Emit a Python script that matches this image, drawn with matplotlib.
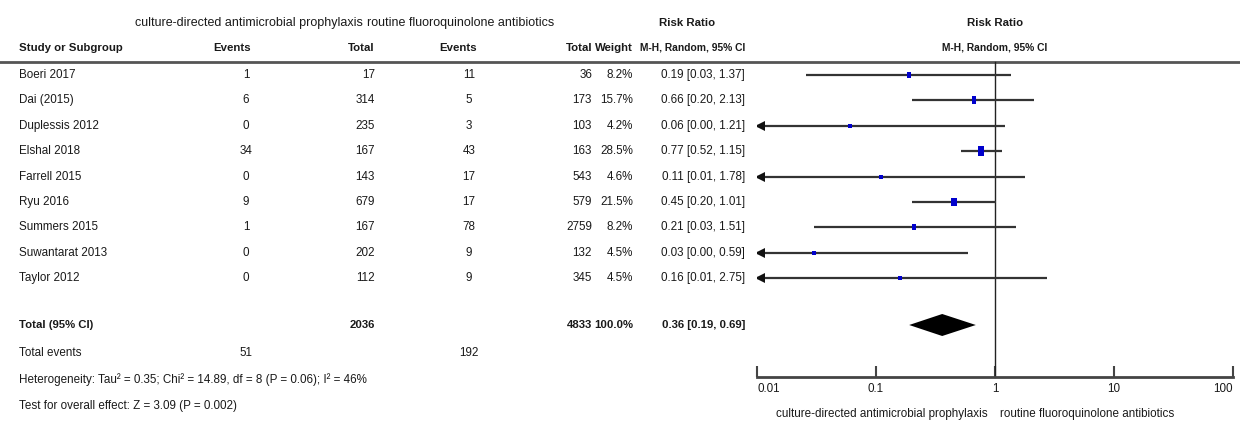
import numpy as np
import matplotlib.pyplot as plt

plt.rcParams['font.family'] = ['Liberation Sans', 'DejaVu Sans']

# study data
studies = ['Boeri 2017', 'Dai (2015)', 'Duplessis 2012', 'Elshal 2018', 'Farrell 2015',
           'Ryu 2016', 'Summers 2015', 'Suwantarat 2013', 'Taylor 2012']
ev1 = [1, 6, 0, 34, 0, 9, 1, 0, 0]
tot1 = [17, 314, 235, 167, 143, 679, 167, 202, 112]
ev2 = [11, 5, 3, 43, 17, 17, 78, 9, 9]
tot2 = [36, 173, 103, 163, 543, 579, 2759, 132, 345]
weight = [8.2, 15.7, 4.2, 28.5, 4.6, 21.5, 8.2, 4.5, 4.5]
rr = [0.19, 0.66, 0.06, 0.77, 0.11, 0.45, 0.21, 0.03, 0.16]
lo = [0.026, 0.20, 0.003, 0.52, 0.007, 0.20, 0.03, 0.002, 0.009]
hi = [1.37, 2.13, 1.21, 1.15, 1.78, 1.01, 1.51, 0.59, 2.75]
ci_text = ['0.19 [0.03, 1.37]', '0.66 [0.20, 2.13]', '0.06 [0.00, 1.21]',
           '0.77 [0.52, 1.15]', '0.11 [0.01, 1.78]', '0.45 [0.20, 1.01]',
           '0.21 [0.03, 1.51]', '0.03 [0.00, 0.59]', '0.16 [0.01, 2.75]']

total1, total2 = 2036, 4833
tev1, tev2 = 51, 192
pooled = (0.36, 0.19, 0.69)
group1 = 'culture-directed antimicrobial prophylaxis'
group2 = 'routine fluoroquinolone antibiotics'
het_text = 'Heterogeneity: Tau\u00b2 = 0.35; Chi\u00b2 = 14.89, df = 8 (P = 0.06); I\u00b2 = 46%'
test_text = 'Test for overall effect: Z = 3.09 (P = 0.002)'

W, H = 1240, 421
fig = plt.figure(figsize=(W / 100, H / 100), dpi=100)

# text layer in pixel coords
ax0 = fig.add_axes([0, 0, 1, 1])
ax0.set_xlim(0, W)
ax0.set_ylim(H, 0)
ax0.axis('off')

fs = 8.4
fsb = 8.2
tc = '#1a1a1a'

def txt(x, y, s, ha='left', bold=False, size=None):
    if size is None:
        size = fsb if bold else fs
    ax0.text(x, y, s, ha=ha, va='center', fontsize=size, color=tc,
             fontweight='bold' if bold else 'normal')

# column positions
x_name, x_e1, x_t1, x_e2, x_t2, x_w, x_ci = 19, 246, 375, 469, 592, 633, 745

# headers
txt(249, 23, group1, ha='center', size=9.0)
txt(461, 23, group2, ha='center', size=9.0)
txt(687, 23, 'Risk Ratio', ha='center', bold=True)
txt(995, 23, 'Risk Ratio', ha='center', bold=True)
txt(x_name, 48, 'Study or Subgroup', bold=True)
txt(232, 48, 'Events', ha='center', bold=True)
txt(x_t1, 48, 'Total', ha='right', bold=True)
txt(458, 48, 'Events', ha='center', bold=True)
txt(x_t2, 48, 'Total', ha='right', bold=True)
txt(x_w, 48, 'Weight', ha='right', bold=True)
txt(x_ci, 48, 'M-H, Random, 95% CI', ha='right', bold=True, size=7.4)
txt(995, 48, 'M-H, Random, 95% CI', ha='center', bold=True, size=7.4)
ax0.plot([0, W], [62, 62], color='#555555', lw=2)

row_y = [75 + i * 25.4 for i in range(len(studies))]
for i, y in enumerate(row_y):
    txt(x_name, y, studies[i])
    txt(x_e1, y, str(ev1[i]), ha='center')
    txt(x_t1, y, str(tot1[i]), ha='right')
    txt(x_e2, y, str(ev2[i]), ha='center')
    txt(x_t2, y, str(tot2[i]), ha='right')
    txt(x_w, y, f'{weight[i]:.1f}%', ha='right')
    txt(x_ci, y, ci_text[i], ha='right')

y_tot = 325
txt(x_name, y_tot, 'Total (95% CI)', bold=True)
txt(x_t1, y_tot, str(total1), ha='right', bold=True)
txt(x_t2, y_tot, str(total2), ha='right', bold=True)
txt(x_w, y_tot, '100.0%', ha='right', bold=True)
txt(x_ci, y_tot, f'{pooled[0]:.2f} [{pooled[1]:.2f}, {pooled[2]:.2f}]', ha='right', bold=True)
txt(x_name, 353, 'Total events')
txt(x_e1, 353, str(tev1), ha='center')
txt(x_e2, 353, str(tev2), ha='center')
txt(x_name, 380, het_text)
txt(x_name, 406, test_text)

# forest panel
ax = fig.add_axes([757 / W, 0, (1233 - 757) / W, 1])
ax.set_xscale('log')
ax.set_xlim(0.01, 100)
ax.set_ylim(H, 0)
ax.patch.set_alpha(0)
for s in ['top', 'left', 'right']:
    ax.spines[s].set_visible(False)
ax.spines['bottom'].set_position(('data', 377))
ax.spines['bottom'].set_color('#444444')
ax.spines['bottom'].set_linewidth(2)
ax.set_yticks([])
ax.set_xticks([0.01, 0.1, 1, 10, 100])
ax.set_xticklabels(['0.01', '0.1', '1', '10', '100'])
ax.xaxis.set_minor_locator(plt.NullLocator())
ax.tick_params(axis='x', direction='in', length=8, width=1.5, color='#444444',
               labelsize=fs, labelcolor=tc, pad=4)
labs = ax.get_xticklabels()
labs[0].set_ha('left')
labs[-1].set_ha('right')

ax.plot([1, 1], [62, 377], color='#222222', lw=1)

for i, y in enumerate(row_y):
    left = max(lo[i], 0.01)
    ax.plot([left, hi[i]], [y, y], color='#333333', lw=1.6, solid_capstyle='butt')
    if lo[i] < 0.01:
        ax.plot([0.0105], [y], marker='<', color='#111111', markersize=6.5,
                markeredgewidth=0)
    # box size from weight (pixels)
    bh = max(4.0, 10 * np.sqrt(weight[i] / 28.5))
    bw = 3.5 + 0.09 * weight[i]
    m = max(bh, bw)
    verts = [(-bw / m, -bh / m), (bw / m, -bh / m), (bw / m, bh / m), (-bw / m, bh / m), (-bw / m, -bh / m)]
    ax.plot([rr[i]], [y], marker=verts, color='#0000cc', markersize=m * 0.72,
            markeredgewidth=0)

ax.fill([pooled[1], pooled[0], pooled[2], pooled[0]],
        [y_tot, y_tot - 11, y_tot, y_tot + 11], color='black', lw=0)

txt(988, 414, group1, ha='right')
txt(1000, 414, group2, ha='left')

fig.savefig('out.png', dpi=100)
